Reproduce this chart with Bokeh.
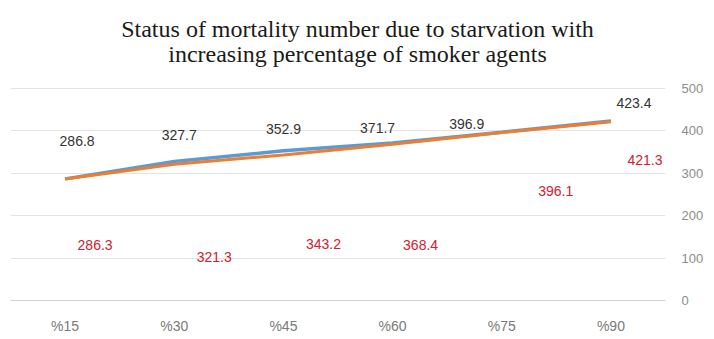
from bokeh.plotting import figure
from bokeh.models import LinearAxis, ColumnDataSource, LabelSet, FixedTicker, Range1d, Label
from bokeh.core.properties import value
from bokeh.embed import file_html
from bokeh.resources import INLINE

title_lines = ["Status of mortality number due to starvation with",
               "increasing percentage of smoker agents"]
categories = ["%15", "%30", "%45", "%60", "%75", "%90"]
series_a = [286.8, 327.7, 352.9, 371.7, 396.9, 423.4]
series_b = [286.3, 321.3, 343.2, 368.4, 396.1, 421.3]
y_ticks = [0, 100, 200, 300, 400, 500]

# label offsets in pixels (styling, relative to each point)
a_dx = [12, 5, 0, -15, -35, 23]
a_dy = [38, 27, 22, 15, 8, 18]
b_dx = [30, 40, 40, 28, 54, 34]
b_dy = [-66, -93, -89, -101, -58, -38]

# frame spans the full canvas height; the value range extends above 500 so the
# title can sit inside the frame while gridlines/ticks stop at 500
p = figure(width=714, height=339, x_range=categories, y_range=Range1d(0, 707.5),
           output_backend="svg", toolbar_location=None,
           min_border_left=10, min_border_right=49, min_border_top=0, min_border_bottom=39)
p.outline_line_color = None
p.background_fill_color = "white"
p.border_fill_color = "white"

# screen units are measured from the frame's bottom-left corner
for i, t in enumerate(title_lines):
    p.add_layout(Label(x=347, y=272 - 25 * i, x_units="screen", y_units="screen",
                       text=t, text_align="center", text_baseline="alphabetic",
                       text_font="Liberation Serif", text_font_size="24px",
                       text_color="#1a1a1a"))

p.yaxis.visible = False
ax = LinearAxis(ticker=FixedTicker(ticks=y_ticks))
ax.axis_line_color = None
ax.major_tick_line_color = None
ax.minor_tick_line_color = None
ax.major_label_text_color = "#8c8c8c"
ax.major_label_text_font = "Liberation Sans"
ax.major_label_text_font_size = "13px"
ax.major_label_standoff = 10
p.add_layout(ax, "right")

p.xaxis.axis_line_color = "#d0d0d0"
p.xaxis.major_tick_line_color = None
p.xaxis.major_label_text_color = "#7a7a7a"
p.xaxis.major_label_text_font = "Liberation Sans"
p.xaxis.major_label_text_font_size = "14px"
p.xaxis.major_label_standoff = 11
p.xgrid.grid_line_color = None
p.ygrid.ticker = FixedTicker(ticks=y_ticks)
p.ygrid.grid_line_color = "#e3e3e3"
p.ygrid.grid_line_width = 1

src = ColumnDataSource(dict(x=categories, a=series_a, b=series_b,
                            at=[f"{v:.1f}" for v in series_a], bt=[f"{v:.1f}" for v in series_b],
                            adx=a_dx, ady=a_dy, bdx=b_dx, bdy=b_dy))
p.line("x", "a", source=src, line_color="#5B9BD5", line_width=3.5)
p.line("x", "b", source=src, line_color="#ED7D31", line_width=3)

la = LabelSet(x="x", y="a", text="at", source=src, x_offset="adx", y_offset="ady",
              text_align="center", text_baseline="middle", text_font=value("Liberation Sans"),
              text_font_size=value("14px"), text_color="#333333")
lb = LabelSet(x="x", y="b", text="bt", source=src, x_offset="bdx", y_offset="bdy",
              text_align="center", text_baseline="middle", text_font=value("Liberation Sans"),
              text_font_size=value("14px"), text_color="#d0202e")
p.add_layout(la)
p.add_layout(lb)

open("out.html", "w").write(file_html(p, INLINE))
